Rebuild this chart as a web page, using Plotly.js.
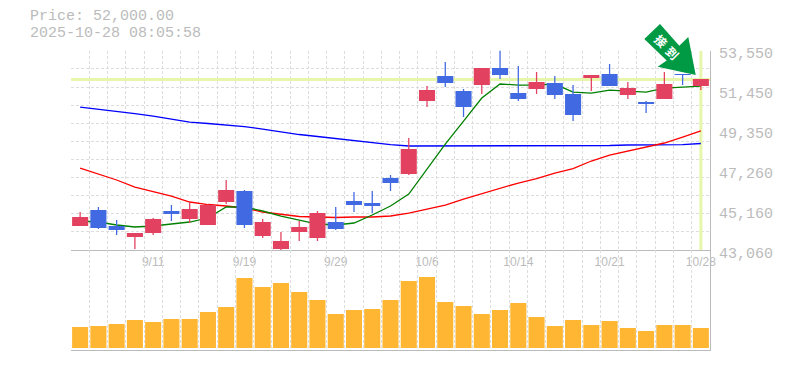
<!DOCTYPE html>
<html><head><meta charset="utf-8">
<script src="https://cdn.plot.ly/plotly-3.0.1.min.js"></script>
<style>html,body{margin:0;padding:0;background:#fff}#c{width:785px;height:370px}</style></head>
<body><div id="c"></div>
<script>
const indices = Array.from({length:35},(_,i)=>i);
const tickIndex = [4,9,14,19,24,29,34];
const tickDates = ['9/11','9/19','9/29','10/6','10/14','10/21','10/28'];
const priceTicks = [53550,51450,49350,47260,45160,43060];
const priceTickText = ['53,550','51,450','49,350','47,260','45,160','43,060'];
const currentPrice = 52000;
const openP  = [44319,45158,44319,43742,43952,45106,44686,44371,45578,46155,43794,43113,44004,43690,44528,45630,45525,46836,47046,50875,52186,51399,51714,52606,51294,51504,51819,51242,52081,52291,51189,50823,50980,52291,51662];
const closeP = [44791,44214,44109,43952,44686,44948,45210,45420,46207,44371,44528,43532,44266,45000,44161,45420,45368,46574,48358,51452,51819,50560,52606,52239,50980,51872,51189,50141,52239,51662,51557,50718,51767,52239,52029];
const highP  = [45053,45315,44633,43952,44738,45420,45578,45473,46732,46207,44686,44004,44581,45106,45315,46102,46155,46994,48934,51662,52920,51504,52606,53550,52710,52396,52186,51714,52239,52815,51872,50875,52396,52291,52029];
const lowP   = [44319,44161,43847,43113,43847,44581,44476,44371,45473,44214,43690,43060,43532,43532,44109,45053,45000,46155,46994,50560,51609,50036,51242,52029,50875,51242,50980,49826,51399,51662,50980,50246,50980,51714,51452];
const ma5    = [44581,44528,44371,44266,44319,44423,44528,44738,45315,45315,45106,44843,44633,44423,44371,44476,44896,45368,45996,47309,48618,49826,51032,51767,51714,51714,51767,51347,51294,51452,51399,51347,51557,51609,51662];
const ma25   = [47361,47046,46732,46364,46128,45892,45578,45446,45368,45263,45053,44922,44817,44791,44765,44791,44791,44843,45000,45210,45420,45735,46024,46312,46574,46810,47099,47335,47728,48043,48253,48463,48673,48987,49303];
const ma75   = [50560,50455,50351,50219,50088,49931,49773,49695,49616,49537,49406,49249,49118,49013,48908,48777,48698,48593,48515,48515,48515,48515,48515,48515,48515,48515,48515,48515,48541,48541,48567,48567,48567,48593,48646];
const volume = [21,22,24,28,26,29,29,36,41,70,61,65,56,48,34,38,39,48,67,71,46,42,34,38,45,31,22,28,23,27,20,17,23,23,20];

const W=785,H=370,L=71,R=710,T=50.8,M=250,B=350;
const xd=[L/W,R/W];
const grey='#bbbbbb',grid='#dddddd';
const xr=[-0.5,34.5];
const yr=[43060,53510];
const ppp=(M-T)/(yr[1]-yr[0]);
const mono='"Liberation Mono","DejaVu Sans Mono",monospace';
const line=(y,c,w)=>({type:'scatter',mode:'lines',x:indices,y:y,xaxis:'x',yaxis:'y',line:{color:c,width:w||1.3},hoverinfo:'skip'});
const candleColor=openP.map((o,i)=>closeP[i]>=o?'#e2425f':'#4169e1');
const px=(x,y)=>(x/W).toFixed(5)+' '+(1-y/H).toFixed(5);
const arrow=[[660,24],[644.3,39],[666.7,60.5],[657.7,66.7],[695.7,75],[688.3,37],[679.3,45.7]];
const data=[
 {type:'scatter',mode:'lines',x:xr,y:[currentPrice,currentPrice],xaxis:'x',yaxis:'y',line:{color:'#e6f6aa',width:3},hoverinfo:'skip'},
 {type:'scatter',mode:'lines',x:[34,34],y:yr,xaxis:'x',yaxis:'y',line:{color:'#e6f6aa',width:3},hoverinfo:'skip'},
 line(ma75,'#0000ff'),line(ma25,'#ff0000'),line(ma5,'#008000'),
 {type:'bar',x:indices,y:volume,xaxis:'x',yaxis:'y2',marker:{color:'#ffb733',line:{width:0}},width:0.88,hoverinfo:'skip'},
 {type:'bar',x:indices,base:lowP,y:highP.map((h,i)=>h-lowP[i]),xaxis:'x',yaxis:'y3',width:0.07,marker:{color:candleColor,line:{width:0}},hoverinfo:'skip'},
 {type:'bar',x:indices,base:openP.map((o,i)=>Math.min(o,closeP[i])),y:openP.map((o,i)=>Math.abs(closeP[i]-o)),xaxis:'x',yaxis:'y3',width:0.88,marker:{color:candleColor,line:{width:0}},hoverinfo:'skip'},
 {type:'scatter',mode:'none',x:[0],y:[yr[0]],xaxis:'x2',yaxis:'y',hoverinfo:'skip'},
 {type:'scatter',mode:'none',x:[0],y:[yr[0]],xaxis:'x3',yaxis:'y4',hoverinfo:'skip'}
];
const layout={
 width:W,height:H,margin:{l:0,r:0,t:0,b:0},paper_bgcolor:'#fff',plot_bgcolor:'rgba(0,0,0,0)',showlegend:false,barmode:'overlay',
 xaxis:{domain:xd,range:xr,tick0:-0.5,dtick:1,showgrid:true,gridcolor:grid,griddash:'3px,2px',gridwidth:1,showticklabels:false,ticks:'',zeroline:false,anchor:'y2',showline:true,linecolor:grey,linewidth:1,fixedrange:true},
 xaxis2:{domain:xd,range:xr,overlaying:'x',anchor:'y',side:'bottom',tickmode:'array',tickvals:tickIndex,ticktext:tickDates,showgrid:false,zeroline:false,ticks:'',tickfont:{family:'"Liberation Sans",Arial,sans-serif',size:12,color:'#bbbbbb'},showline:true,linecolor:grey,linewidth:1,ticklabelstandoff:1,fixedrange:true},
 xaxis3:{domain:xd,range:xr,visible:false,anchor:'y4',fixedrange:true},
 yaxis:{domain:[(H-M)/H,(H-T)/H],range:yr,tick0:yr[0],dtick:950,showgrid:true,gridcolor:grid,griddash:'3px,2px',showticklabels:false,ticks:'',zeroline:false,anchor:'x',side:'right',showline:true,linecolor:grey,linewidth:1,fixedrange:true},
 yaxis2:{domain:[(H-B)/H,(H-M)/H],range:[-2,98],showgrid:false,showticklabels:false,ticks:'',zeroline:false,anchor:'x',side:'right',showline:true,linecolor:grey,linewidth:1,fixedrange:true},
 yaxis3:{range:yr,overlaying:'y',anchor:'x',side:'right',showgrid:false,showticklabels:false,ticks:'',zeroline:false,fixedrange:true},
 yaxis4:{domain:[(H-262)/H,(H-T)/H],range:[yr[0]-9/ppp,yr[1]+3/ppp],anchor:'x3',side:'right',showgrid:false,zeroline:false,tickmode:'array',tickvals:priceTicks,ticktext:priceTickText,ticks:'',tickfont:{family:mono,size:15,color:'#bbbbbb'},ticklabelstandoff:8,fixedrange:true},
 shapes:[{type:'path',xref:'paper',yref:'paper',layer:'above',fillcolor:'#009944',line:{width:0},path:'M'+arrow.map(p=>px(p[0],p[1])).join(' L')+' Z'}],
 annotations:[
  {xref:'paper',yref:'paper',x:28/W,y:1-16.5/H,xanchor:'left',yanchor:'middle',height:14,showarrow:false,text:'Price: 52,000.00',font:{family:mono,size:15,color:'#bbbbbb'}},
  {xref:'paper',yref:'paper',x:28/W,y:1-33.5/H,xanchor:'left',yanchor:'middle',height:14,showarrow:false,text:'2025-10-28 08:05:58',font:{family:mono,size:15,color:'#bbbbbb'}},
  {xref:'paper',yref:'paper',x:661/W,y:1-41/H,xanchor:'center',yanchor:'middle',showarrow:false,textangle:45,text:'<b>接</b>',font:{family:'"Noto Sans CJK JP"',size:12,color:'#ffffff'}},
  {xref:'paper',yref:'paper',x:673/W,y:1-52.5/H,xanchor:'center',yanchor:'middle',showarrow:false,textangle:45,text:'<b>到</b>',font:{family:'"Noto Sans CJK JP"',size:12,color:'#ffffff'}}
 ]
};
Plotly.newPlot('c',data,layout,{staticPlot:true,displayModeBar:false});
</script></body></html>
